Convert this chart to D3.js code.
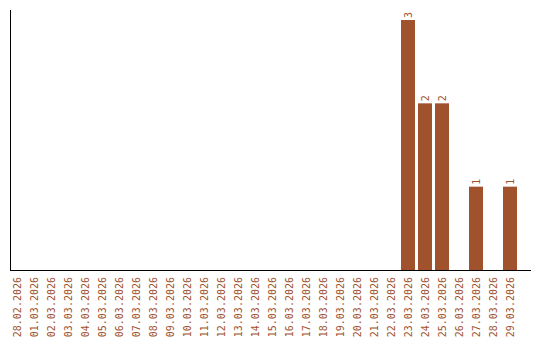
<!DOCTYPE html>
<html>
<head>
<meta charset="utf-8">
<script src="https://cdn.jsdelivr.net/npm/d3@7"></script>
<style>
  body { margin: 0; background: #fff; }
  text { font-family: "DejaVu Sans Mono", monospace; }
</style>
</head>
<body>
<script>
// dates shown on the x axis
const dates = ["28.02.2026", "01.03.2026", "02.03.2026", "03.03.2026", "04.03.2026",
  "05.03.2026", "06.03.2026", "07.03.2026", "08.03.2026", "09.03.2026", "10.03.2026",
  "11.03.2026", "12.03.2026", "13.03.2026", "14.03.2026", "15.03.2026", "16.03.2026",
  "17.03.2026", "18.03.2026", "19.03.2026", "20.03.2026", "21.03.2026", "22.03.2026",
  "23.03.2026", "24.03.2026", "25.03.2026", "26.03.2026", "27.03.2026", "28.03.2026",
  "29.03.2026"];
const counts = [0, 0, 0, 0, 0, 0, 0, 0, 0, 0, 0, 0, 0, 0, 0, 0, 0, 0, 0, 0, 0, 0, 0,
  3, 2, 2, 0, 1, 0, 1];

const width = 540, height = 340;
const color = "#a0522d";

const svg = d3.select("body").append("svg")
    .attr("width", width)
    .attr("height", height);

const x = d3.scaleBand()
    .domain(dates)
    .range([10, 517])
    .paddingInner(3 / 17)
    .paddingOuter(0);

const y = d3.scaleLinear()
    .domain([0, 3])
    .range([270, 20]);

const data = dates.map((d, i) => ({ date: d, value: counts[i] }));

svg.append("g")
   .selectAll("rect")
   .data(data.filter(d => d.value > 0))
   .enter().append("rect")
   .attr("x", d => x(d.date))
   .attr("y", d => y(d.value))
   .attr("width", x.bandwidth())
   .attr("height", d => y(0) - y(d.value))
   .attr("fill", color);

// value labels, rotated like the ticks
svg.append("g")
   .selectAll("text")
   .data(data.filter(d => d.value > 0))
   .enter().append("text")
   .attr("transform", d => `translate(${x(d.date) + x.bandwidth() / 2 + 3.5},${y(d.value) - 2}) rotate(-90)`)
   .attr("font-size", 10)
   .attr("fill", color)
   .text(d => d.value);

// tick labels
svg.append("g")
   .selectAll("text")
   .data(dates)
   .enter().append("text")
   .attr("transform", d => `translate(${x(d) + x.bandwidth() / 2 + 3.5},${277}) rotate(-90)`)
   .attr("text-anchor", "end")
   .attr("font-size", 10)
   .attr("fill", color)
   .text(d => d);

// axis lines
svg.append("line")
   .attr("x1", 10.5).attr("x2", 10.5)
   .attr("y1", 10).attr("y2", 270)
   .attr("stroke", "#000");
svg.append("line")
   .attr("x1", 10).attr("x2", 531)
   .attr("y1", 270.5).attr("y2", 270.5)
   .attr("stroke", "#000");
</script>
</body>
</html>
